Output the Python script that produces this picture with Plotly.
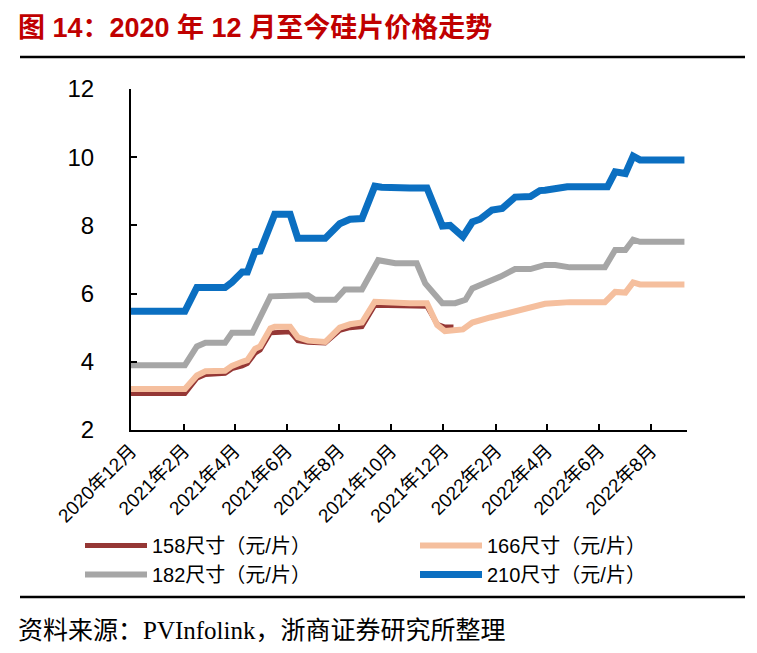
import plotly.graph_objects as go

# ---------------- data ----------------
d158 = ["2020-12-01", "2021-02-02", "2021-02-16", "2021-02-26", "2021-03-21", "2021-03-29",
        "2021-04-10", "2021-04-16", "2021-04-25", "2021-05-01", "2021-05-13", "2021-06-05",
        "2021-06-14", "2021-06-26", "2021-07-16", "2021-08-02", "2021-08-14", "2021-08-28",
        "2021-09-12", "2021-10-23", "2021-11-12", "2021-11-24", "2021-12-03", "2021-12-13"]
v158 = [3.07, 3.07, 3.52, 3.63, 3.66, 3.80, 3.88, 3.95, 4.25, 4.35, 4.85, 4.88,
        4.62, 4.57, 4.55, 4.92, 5.00, 5.03, 5.66, 5.63, 5.63, 5.10, 5.02, 5.02]

d166 = ["2020-12-01", "2021-02-02", "2021-02-16", "2021-02-26", "2021-03-21", "2021-03-29",
        "2021-04-10", "2021-04-16", "2021-04-25", "2021-05-01", "2021-05-13", "2021-05-18",
        "2021-06-05", "2021-06-14", "2021-06-26", "2021-07-16", "2021-08-02", "2021-08-14",
        "2021-08-28", "2021-09-12", "2021-10-23", "2021-11-12", "2021-11-24", "2021-12-03",
        "2021-12-24", "2022-01-04", "2022-01-25", "2022-02-17", "2022-03-13", "2022-03-30",
        "2022-04-28", "2022-06-08", "2022-06-20", "2022-07-02", "2022-07-11", "2022-07-19",
        "2022-09-09"]
v166 = [3.20, 3.20, 3.60, 3.72, 3.74, 3.88, 4.00, 4.05, 4.38, 4.45, 4.98, 5.03,
        5.03, 4.72, 4.62, 4.58, 5.00, 5.10, 5.15, 5.76, 5.72, 5.72, 5.08, 4.90,
        4.95, 5.15, 5.30, 5.45, 5.58, 5.70, 5.75, 5.75, 6.05, 6.03, 6.33, 6.27,
        6.27]

d182 = ["2020-12-01", "2021-02-02", "2021-02-16", "2021-02-26", "2021-03-21", "2021-03-29",
        "2021-04-22", "2021-05-13", "2021-06-26", "2021-07-04", "2021-07-28", "2021-08-08",
        "2021-08-28", "2021-09-16", "2021-10-06", "2021-10-31", "2021-11-10", "2021-11-30",
        "2021-12-15", "2021-12-27", "2022-01-04", "2022-01-19", "2022-02-06", "2022-02-23",
        "2022-03-13", "2022-03-30", "2022-04-11", "2022-04-28", "2022-06-08", "2022-06-20",
        "2022-07-02", "2022-07-11", "2022-07-19", "2022-09-09"]
v182 = [3.90, 3.90, 4.45, 4.56, 4.56, 4.85, 4.85, 5.92, 5.95, 5.82, 5.82, 6.12,
        6.12, 6.98, 6.89, 6.89, 6.30, 5.72, 5.72, 5.82, 6.15, 6.30, 6.50, 6.72,
        6.72, 6.84, 6.84, 6.77, 6.77, 7.28, 7.28, 7.58, 7.52, 7.52]

d210 = ["2020-12-01", "2021-02-02", "2021-02-16", "2021-03-21", "2021-03-29", "2021-04-10",
        "2021-04-16", "2021-04-25", "2021-05-01", "2021-05-13", "2021-05-18", "2021-06-05",
        "2021-06-14", "2021-07-16", "2021-08-02", "2021-08-14", "2021-08-28", "2021-09-12",
        "2021-09-20", "2021-10-23", "2021-11-12", "2021-11-30", "2021-12-09", "2021-12-24",
        "2022-01-04", "2022-01-13", "2022-01-27", "2022-02-08", "2022-02-23", "2022-03-13",
        "2022-03-24", "2022-03-30", "2022-04-25", "2022-06-11", "2022-06-20", "2022-07-02",
        "2022-07-11", "2022-07-19", "2022-09-09"]
v210 = [5.48, 5.48, 6.18, 6.18, 6.33, 6.63, 6.63, 7.23, 7.25, 8.05, 8.33, 8.33,
        7.62, 7.62, 8.05, 8.18, 8.20, 9.15, 9.12, 9.10, 9.10, 7.98, 8.00, 7.67,
        8.10, 8.18, 8.45, 8.50, 8.83, 8.85, 9.02, 9.03, 9.13, 9.13, 9.57, 9.52,
        10.03, 9.92, 9.92]

names = ["158尺寸（元/片）", "166尺寸（元/片）", "182尺寸（元/片）", "210尺寸（元/片）"]

tick_vals = ["2020-12-01", "2021-02-01", "2021-04-01", "2021-06-01", "2021-08-01", "2021-10-01",
             "2021-12-01", "2022-02-01", "2022-04-01", "2022-06-01", "2022-08-01"]
tick_text = ["2020年12月", "2021年2月", "2021年4月", "2021年6月", "2021年8月", "2021年10月",
             "2021年12月", "2022年2月", "2022年4月", "2022年6月", "2022年8月"]

title_text = "图 14：2020 年 12 月至今硅片价格走势"
source_text = "资料来源：PVInfolink，浙商证券研究所整理"

# ---------------- figure ----------------
SANS = "Liberation Sans, Arial, Noto Sans CJK SC, sans-serif"
SERIF = "Liberation Serif, Times New Roman, Noto Sans CJK SC, serif"

colors = ["#953735", "#F5BF9E", "#A6A6A6", "#0B6FC1"]
widths = [5, 6, 6, 7]
legend_ids = ["legend", "legend2", "legend", "legend2"]
series = [(d158, v158), (d166, v166), (d182, v182), (d210, v210)]

fig = go.Figure()
for (d, v), n, c, w, lg in zip(series, names, colors, widths, legend_ids):
    fig.add_trace(go.Scatter(x=d, y=v, name=n, mode="lines", legend=lg,
                             line=dict(color=c, width=w)))

# page has an 8px body margin: plot area lands at screen x 131..687, y 89..430
PW, PH = 556, 341
def px(sx):
    return (sx - 131) / PW
def py(sy):
    return (430 - sy) / PH

legend_common = dict(orientation="v", yanchor="top", xanchor="left",
                     font=dict(family=SANS, size=20, color="black"),
                     itemwidth=62,
                     tracegroupgap=0, bgcolor="rgba(0,0,0,0)", traceorder="normal")

fig.update_layout(
    width=749, height=645,
    margin=dict(l=123, r=70, t=81, b=223),
    paper_bgcolor="white", plot_bgcolor="white",
    showlegend=True,
    legend=dict(x=px(80), y=py(526), **legend_common),
    legend2=dict(x=px(415), y=py(526), **legend_common),
    xaxis=dict(type="date", range=["2020-12-01", "2022-09-12"],
               tickvals=tick_vals, ticktext=tick_text, tickangle=-45,
               ticks="inside", ticklen=6, tickwidth=1.5, tickcolor="black",
               showline=True, linecolor="black", linewidth=2,
               showgrid=False, zeroline=False,
               tickfont=dict(family=SANS, size=19, color="black")),
    yaxis=dict(range=[2, 12], dtick=2, tick0=2,
               ticks="inside", ticklen=6, tickwidth=1.5, tickcolor="black",
               showline=True, linecolor="black", linewidth=2,
               showgrid=False, zeroline=False,
               ticklabelposition="outside", ticklabelstandoff=30,
               tickfont=dict(family=SANS, size=24, color="black")),
)

# title and source
fig.add_annotation(text="<b>" + title_text + "</b>", xref="paper", yref="paper",
                   x=px(16), y=py(28), xanchor="left", yanchor="middle",
                   showarrow=False, font=dict(family=SANS, size=27, color="#C00000"))
fig.add_annotation(text=source_text, xref="paper", yref="paper",
                   x=px(16), y=py(630), xanchor="left", yanchor="middle",
                   showarrow=False, font=dict(family=SERIF, size=25, color="black"))

# separator lines
for ypx in (57, 597):
    fig.add_shape(type="line", xref="paper", yref="paper",
                  x0=px(20), x1=px(745), y0=py(ypx), y1=py(ypx),
                  line=dict(color="black", width=2.5))

fig.write_html("out.html")
